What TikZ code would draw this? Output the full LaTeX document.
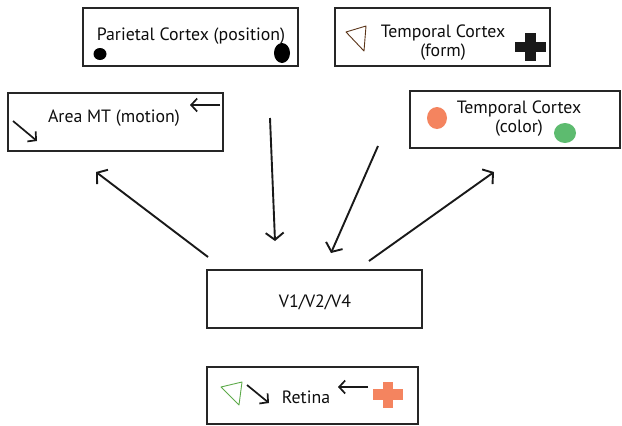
\documentclass[tikz,border=0pt]{standalone}
\usepackage{fontspec}
\setmainfont{PT Sans}
\usetikzlibrary{arrows.meta}
\definecolor{orng}{HTML}{F4845F}
\definecolor{grn}{HTML}{5DBB6F}
\definecolor{trigrn}{HTML}{5DAA4A}
\definecolor{brwn}{HTML}{5A3418}
\tikzset{
  box/.style={draw=black!85, line width=1.1pt, inner sep=0pt},
  lbl/.style={font=\fontsize{17.8}{19}\selectfont, text=black!95, inner sep=0pt, align=center},
  arr/.style={line width=1.9pt, draw=black!90, -{Straight Barb[length=7pt,width=18pt,line width=1.9pt]}},
  iarr/.style={line width=1.7pt, draw=black!90, -{Straight Barb[length=6pt,width=13pt,line width=1.7pt]}},
}
\begin{document}
\begin{tikzpicture}[x=1pt,y=-1pt]
\useasboundingbox (0,0) rectangle (622,426);
% boxes
\node[box, minimum width=215pt, minimum height=58pt] (par) at (190.5,37) {};
\node[box, minimum width=215pt, minimum height=58pt] (mt) at (115.5,122) {};
\node[box, minimum width=215pt, minimum height=58pt] (form) at (442.5,37) {};
\node[box, minimum width=210pt, minimum height=57pt] (col) at (515,119.5) {};
\node[box, minimum width=215pt, minimum height=58pt] (v1) at (314.5,299) {};
\node[box, minimum width=211pt, minimum height=57pt] (ret) at (312.5,395.5) {};
% labels
\node[lbl] (tpar) at (191,36) {Parietal Cortex (position)};
\node[lbl] (tmt) at (114,118) {Area MT (motion)};
\node[lbl] (tform) at (443,43) {Temporal Cortex\\(form)};
\node[lbl] (tcol) at (519,119) {Temporal Cortex\\(color)};
\node[lbl] (tv1) at (315,302) {V1/V2/V4};
\node[lbl] (tret) at (306,397) {Retina};
% icons: parietal blobs
\fill[black] (100,54) ellipse[x radius=6.5, y radius=6];
\fill[black] (282,53) ellipse[x radius=8, y radius=10];
% icons: MT arrows
\coordinate (m1a) at (13,121); \coordinate (m1b) at (37,141);
\draw[iarr] (m1a) -- (m1b);
\coordinate (m2a) at (220,105); \coordinate (m2b) at (190,105);
\draw[iarr] (m2a) -- (m2b);
% icons: form
\draw[brwn, line width=0.9pt, line join=round] (346,32) -- (366,26) -- (364,51) -- cycle;
\fill[black!90] (515,42) rectangle (546,52);
\fill[black!90] (525,33) rectangle (536,61);
% icons: color blobs
\fill[orng] (437,118) ellipse[x radius=10, y radius=11];
\fill[grn] (565,133) ellipse[x radius=11, y radius=10];
% icons: retina
\draw[trigrn, line width=0.9pt, line join=round] (221,387) -- (242,382) -- (239,405) -- cycle;
\coordinate (r1a) at (247,385); \coordinate (r1b) at (269,403);
\draw[iarr] (r1a) -- (r1b);
\coordinate (r2a) at (368,387); \coordinate (r2b) at (338,387);
\draw[iarr] (r2a) -- (r2b);
\fill[orng] (373,389) rectangle (403,400);
\fill[orng] (383,382) rectangle (393,408);
% connectors
\coordinate (a1s) at (208,257); \coordinate (a1e) at (96,172);
\coordinate (a2s) at (270,118); \coordinate (a2e) at (275,241);
\coordinate (a3s) at (378,146); \coordinate (a3e) at (331,253);
\coordinate (a4s) at (369,261); \coordinate (a4e) at (494,172);
\draw[arr] (a1s) -- (a1e);
\draw[arr] (a2s) -- (a2e);
\draw[arr] (a3s) -- (a3e);
\draw[arr] (a4s) -- (a4e);
\end{tikzpicture}
\end{document}
